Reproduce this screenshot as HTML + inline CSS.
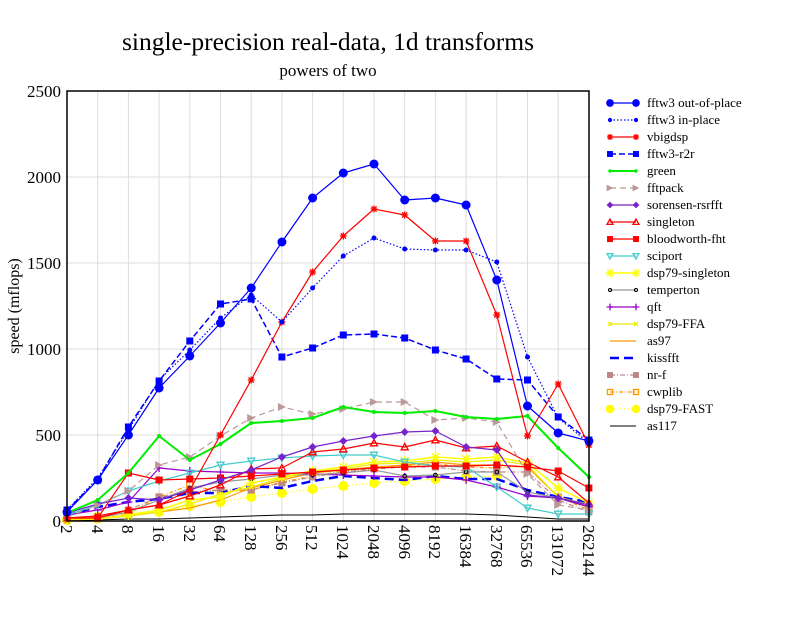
<!DOCTYPE html>
<html><head><meta charset="utf-8"><style>
body{margin:0;background:#fff}
svg text{font-family:"Liberation Serif",serif;fill:#000}
</style></head><body>
<svg id="s" width="792" height="612" xmlns="http://www.w3.org/2000/svg">
<rect width="792" height="612" fill="#fff"/>
<text x="328" y="50" font-size="25.5" text-anchor="middle">single-precision real-data, 1d transforms</text>
<text x="328" y="76" font-size="17" text-anchor="middle">powers of two</text>
<text transform="translate(19,306) rotate(-90)" font-size="16" text-anchor="middle">speed (mflops)</text>
<g id="grid"></g>
<g font-size="17" text-anchor="end">
<text x="61" y="97">2500</text><text x="61" y="183">2000</text><text x="61" y="269">1500</text><text x="61" y="355">1000</text><text x="61" y="441">500</text><text x="61" y="527">0</text>
</g>
<g font-size="17" id="xl">
<text transform="translate(61,525) rotate(90)">2</text>
<text transform="translate(92,525) rotate(90)">4</text>
<text transform="translate(122,525) rotate(90)">8</text>
<text transform="translate(153,525) rotate(90)">16</text>
<text transform="translate(184,525) rotate(90)">32</text>
<text transform="translate(214,525) rotate(90)">64</text>
<text transform="translate(245,525) rotate(90)">128</text>
<text transform="translate(276,525) rotate(90)">256</text>
<text transform="translate(306,525) rotate(90)">512</text>
<text transform="translate(337,525) rotate(90)">1024</text>
<text transform="translate(368,525) rotate(90)">2048</text>
<text transform="translate(399,525) rotate(90)">4096</text>
<text transform="translate(429,525) rotate(90)">8192</text>
<text transform="translate(460,525) rotate(90)">16384</text>
<text transform="translate(491,525) rotate(90)">32768</text>
<text transform="translate(521,525) rotate(90)">65536</text>
<text transform="translate(552,525) rotate(90)">131072</text>
<text transform="translate(583,525) rotate(90)">262144</text>
</g>
<g id="ser"></g>
<rect x="67" y="91" width="522" height="430" fill="none" stroke="#000" stroke-width="1.5"/>
<g font-size="13" id="leg">
<text x="647" y="107">fftw3 out-of-place</text>
<text x="647" y="124">fftw3 in-place</text>
<text x="647" y="141">vbigdsp</text>
<text x="647" y="158">fftw3-r2r</text>
<text x="647" y="175">green</text>
<text x="647" y="192">fftpack</text>
<text x="647" y="209">sorensen-rsrfft</text>
<text x="647" y="226">singleton</text>
<text x="647" y="243">bloodworth-fht</text>
<text x="647" y="260">sciport</text>
<text x="647" y="277">dsp79-singleton</text>
<text x="647" y="294">temperton</text>
<text x="647" y="311">qft</text>
<text x="647" y="328">dsp79-FFA</text>
<text x="647" y="345">as97</text>
<text x="647" y="362">kissfft</text>
<text x="647" y="379">nr-f</text>
<text x="647" y="396">cwplib</text>
<text x="647" y="413">dsp79-FAST</text>
<text x="647" y="430">as117</text>
</g>
<g id="legm"></g>
</svg>
<script>
var NS="http://www.w3.org/2000/svg";
function el(p,t,a){var e=document.createElementNS(NS,t);for(var k in a)e.setAttribute(k,a[k]);p.appendChild(e);return e;}
var g=document.getElementById('grid');
for(var i=1;i<17;i++){var x=67+i*30.7;el(g,'line',{x1:x,x2:x,y1:91,y2:521,stroke:'#ddd'});}
for(var j=1;j<5;j++){var y=521-j*86;el(g,'line',{x1:67,x2:589,y1:y,y2:y,stroke:'#ddd'});}
function X(i){return 67+i*30.7;}
var S=[
["#00f","1.2","","circ",4.5,[512,480,435,388,356,323,288,242,198,173,164,200,198,205,280,406,433,441]],
["#00f","1.2","1.5,2","circ",2.5,[510,478,430,380,350,318,295,322,288,256,238,249,250,250,262,357,418,443]],
["#f00","1.2","","star",3.5,[518,516,510,505,490,435,380,322,272,236,209,215,241,241,315,436,384,445]],
["#00f","1.5","6,3","sq",3.5,[510,480,427,381,341,304,299,357,348,335,334,338,350,359,379,380,417,440]],
["#0e0","2","","circ",2,[513,500,473,436,460,444,423,421,418,407,412,413,411,417,419,416,448,477]],
["#b99","1.2","6,4","tri",4,[517,505,491,465,457,436,418,407,414,409,402,402,420,418,422,474,505,510]],
["#72c","1.2","","dia",4,[513,504,498,500,490,480,470,457,447,441,436,432,431,447,450,495,498,505]],
["#f00","1.2","","otri",3.5,[518,518,510,505,496,485,469,468,452,449,443,447,440,448,446,462,477,503]],
["#f00","1.2","","sq",3.5,[518,518,473,480,479,478,476,474,472,470,468,467,466,466,465,467,471,488]],
["#4cc","1.2","","dtri",3.5,[515,505,491,481,473,465,461,458,456,455,455,462,466,467,487,508,514,514]],
["#ff0","1.5","","star",5,[519,519,515,510,500,497,483,477,471,467,462,461,457,459,457,463,488,503]],
["#999","1.2","","ocirc",1.8,[519,518,512,500,488,482,479,475,475,473,470,476,475,472,472,492,498,504]],
["#90c","1.2","","plus",4,[515,510,502,468,471,472,473,473,474,475,476,477,477,480,487,496,498,507]],
["#ee0","1.2","","x",3,[519,519,516,512,504,494,487,478,472,469,464,463,460,462,460,465,497,505]],
["#f90","1.2","","",0,[520,519,516,512,508,500,488,480,473,470,467,465,462,465,465,467,497,507]],
["#00f","2.5","9,5","",0,[515,507,502,499,493,493,486,488,481,476,478,480,476,479,479,490,497,502]],
["#b88","1.2","5,2,1,2","sq",3.5,[519,518,510,497,492,490,490,483,477,472,469,467,467,471,472,472,500,512]],
["#f90","1.2","4,2,1,2","osq",3,[520,519,514,497,485,492,490,482,476,471,468,466,464,467,468,466,497,510]],
["#ff0","1","1.5,2","circ",5,[520,517,512,512,506,502,497,493,489,486,483,481,479,477,476,0,0,0]],
["#000","1","","",0,[520,520,519,519,518,517,516,515,515,514,514,514,514,514,515,517,519,519]]];
var sg=document.getElementById('ser'),lm=document.getElementById('legm');
function mk(p,t,x,y,r,c){
 if(t=='circ')el(p,'circle',{cx:x,cy:y,r:r,fill:c});
 else if(t=='ocirc')el(p,'circle',{cx:x,cy:y,r:r,fill:'none',stroke:'#000'});
 else if(t=='sq')el(p,'rect',{x:x-r,y:y-r,width:2*r,height:2*r,fill:c});
 else if(t=='osq')el(p,'rect',{x:x-r,y:y-r,width:2*r,height:2*r,fill:'none',stroke:c,'stroke-width':1.3});
 else if(t=='tri')el(p,'polygon',{points:(x-r)+','+(y-r)+' '+(x+r)+','+y+' '+(x-r)+','+(y+r),fill:c});
 else if(t=='otri')el(p,'polygon',{points:x+','+(y-r)+' '+(x+r)+','+(y+r*.8)+' '+(x-r)+','+(y+r*.8),fill:'none',stroke:c,'stroke-width':1.3});
 else if(t=='dtri')el(p,'polygon',{points:x+','+(y+r)+' '+(x+r)+','+(y-r*.8)+' '+(x-r)+','+(y-r*.8),fill:'none',stroke:c,'stroke-width':1.3});
 else if(t=='dia')el(p,'polygon',{points:x+','+(y-r)+' '+(x+r)+','+y+' '+x+','+(y+r)+' '+(x-r)+','+y,fill:c});
 else {var d='';
  if(t=='plus'||t=='star')d+='M'+(x-r)+' '+y+'H'+(x+r)+'M'+x+' '+(y-r)+'V'+(y+r);
  if(t=='x'||t=='star'){var q=r*.75;d+='M'+(x-q)+' '+(y-q)+'L'+(x+q)+' '+(y+q)+'M'+(x-q)+' '+(y+q)+'L'+(x+q)+' '+(y-q);}
  el(p,'path',{d:d,stroke:c,'stroke-width':1.3,fill:'none'});}
}
for(var k=S.length-1;k>=0;k--){var s=S[k],d='',pts=[];
 s[5].forEach(function(v,i){if(v>0){d+=(d?'L':'M')+X(i).toFixed(1)+' '+v;pts.push([X(i),v]);}});
 var a={d:d,fill:'none',stroke:s[0],'stroke-width':s[1],'stroke-linejoin':'round'};if(s[2])a['stroke-dasharray']=s[2];
 el(sg,'path',a);
 if(s[3])pts.forEach(function(p){mk(sg,s[3],p[0],p[1],s[4],s[0]);});
}
S.forEach(function(s,k){var y=103+k*17;var a={x1:610,x2:636,y1:y,y2:y,stroke:s[0],'stroke-width':s[1]};if(s[2])a['stroke-dasharray']=s[2];
 el(lm,'line',a);if(s[3]){mk(lm,s[3],610,y,s[4]*0.85,s[0]);mk(lm,s[3],636,y,s[4]*0.85,s[0]);}});
</script>
</body></html>
